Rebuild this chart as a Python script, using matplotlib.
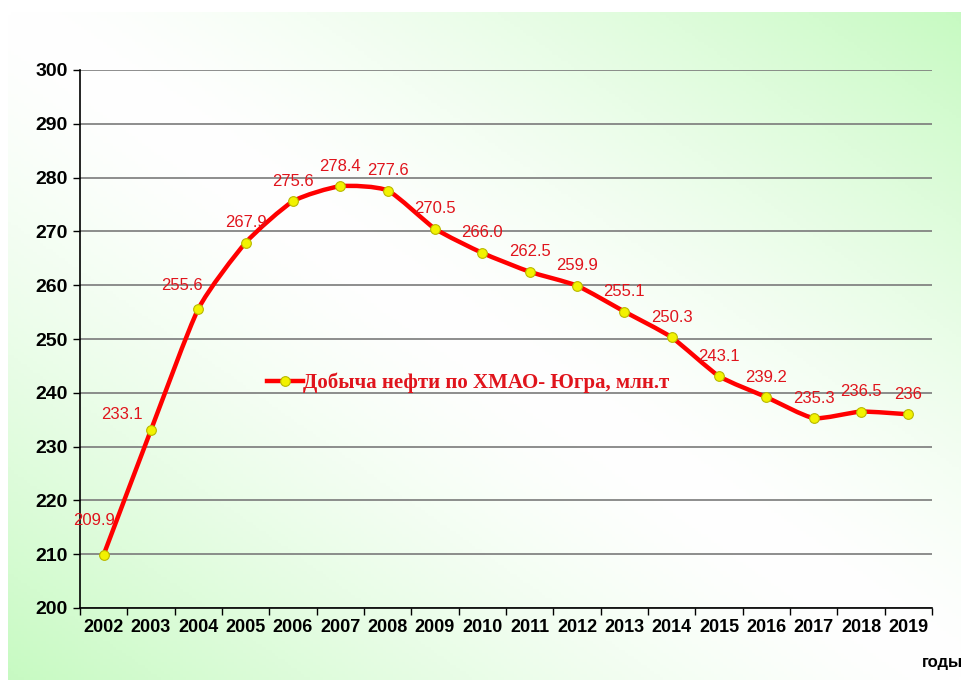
import numpy as np
import matplotlib
matplotlib.use("Agg")
import matplotlib.pyplot as plt
from matplotlib.path import Path
from matplotlib.patches import PathPatch
from matplotlib.lines import Line2D

years = ["2002", "2003", "2004", "2005", "2006", "2007", "2008", "2009", "2010",
         "2011", "2012", "2013", "2014", "2015", "2016", "2017", "2018", "2019"]
oil = [209.9, 233.1, 255.6, 267.9, 275.6, 278.4, 277.6, 270.5, 266.0,
       262.5, 259.9, 255.1, 250.3, 243.1, 239.2, 235.3, 236.5, 236.0]
labels = ["209.9", "233.1", "255.6", "267.9", "275.6", "278.4", "277.6", "270.5", "266.0",
          "262.5", "259.9", "255.1", "250.3", "243.1", "239.2", "235.3", "236.5", "236"]
series_name = "Добыча нефти по ХМАО- Югра, млн.т"

W, H = 962, 682
fig = plt.figure(figsize=(W / 100, H / 100), dpi=100)
fig.patch.set_facecolor("white")

# background gradient (white diagonal, green corners)
bg = fig.add_axes([8 / W, 2 / H, 954 / W, 668 / H], zorder=0)
u = np.linspace(0, 1, 300)
v = np.linspace(0, 1, 220)
U, V = np.meshgrid(u, v)
t = np.clip(np.abs(U - V), 0, 1) ** 1.4
white = np.array([1.0, 1.0, 1.0])
green = np.array([0.78, 0.98, 0.76])
img = white[None, None, :] * (1 - t[..., None]) + green[None, None, :] * t[..., None]
bg.imshow(img, aspect="auto", extent=[0, 1, 0, 1], origin="upper")
bg.axis("off")

ax = fig.add_axes([80 / W, 1 - 608 / H, 852 / W, 538 / H], zorder=1)
ax.set_facecolor("none")

x = np.arange(len(years))
y = np.array(oil)

# gently smoothed line through the points
verts = [(x[0], y[0])]
codes = [Path.MOVETO]
n = len(x)
k = 10
for i in range(n - 1):
    p0 = np.array([x[max(i - 1, 0)], y[max(i - 1, 0)]])
    p1 = np.array([x[i], y[i]])
    p2 = np.array([x[i + 1], y[i + 1]])
    p3 = np.array([x[min(i + 2, n - 1)], y[min(i + 2, n - 1)]])
    c1 = p1 + (p2 - p0) / k
    c2 = p2 - (p3 - p1) / k
    verts += [tuple(c1), tuple(c2), tuple(p2)]
    codes += [Path.CURVE4] * 3
ax.add_patch(PathPatch(Path(verts, codes), fill=False, edgecolor="#ff0000",
                       lw=3.2, zorder=3, capstyle="round", joinstyle="round"))
ax.plot(x, y, ls="none", marker="o", ms=7, mfc="#f2f200", mec="#b8b800",
        mew=0.8, zorder=4)

offsets = [(-10, 34), (-29, 15), (-16, 23)] + [(0, 20)] * (n - 3)
for xi, yi, lab, off in zip(x, y, labels, offsets):
    ax.annotate(lab, (xi, yi), xytext=off, textcoords="offset pixels",
                ha="center", va="center", color="#e0141c", fontsize=12,
                family="Liberation Sans", zorder=5)

ax.set_xlim(-0.5, n - 0.5)
ax.set_ylim(200, 300)
ax.set_yticks(np.arange(200, 301, 10))
ax.set_xticks(x)
ax.set_xticklabels(years)
ax.set_xticks(np.arange(-0.5, n, 1), minor=True)
ax.tick_params(axis="x", which="major", length=0, pad=8)
ax.tick_params(axis="x", which="minor", length=5, width=1, color="black")
ax.tick_params(axis="y", length=5, width=1, color="black", pad=4)
for lab in ax.get_xticklabels():
    lab.set_fontsize(13)
    lab.set_fontweight("bold")
    lab.set_family("Liberation Sans")
for lab in ax.get_yticklabels():
    lab.set_fontsize(14)
    lab.set_fontweight("bold")
    lab.set_family("Liberation Sans")

ax.grid(axis="y", color="#7a7a7a", lw=1.2)
ax.set_axisbelow(True)
for s in ["top", "right"]:
    ax.spines[s].set_visible(False)
ax.spines["left"].set_color("black")
ax.spines["bottom"].set_color("black")
ax.spines["left"].set_linewidth(1.2)
ax.spines["bottom"].set_linewidth(1.2)

handle = Line2D([], [], color="#ff0000", lw=3.2, marker="o", ms=7,
                mfc="#f2f200", mec="#b8b800", mew=0.8)
leg = ax.legend([handle], [series_name], loc="center left",
                bbox_to_anchor=(179 / 852, (608 - 383) / 538), frameon=False,
                handlelength=1.7, handletextpad=0.0, borderaxespad=0,
                prop={"family": "Liberation Serif", "weight": "bold", "size": 15})
for txt in leg.get_texts():
    txt.set_color("#e0141c")

fig.text(922 / W, 1 - 663 / H, "годы", fontsize=12, fontweight="bold",
         family="Liberation Sans", ha="left", va="center")

fig.savefig("out.png", dpi=100)
